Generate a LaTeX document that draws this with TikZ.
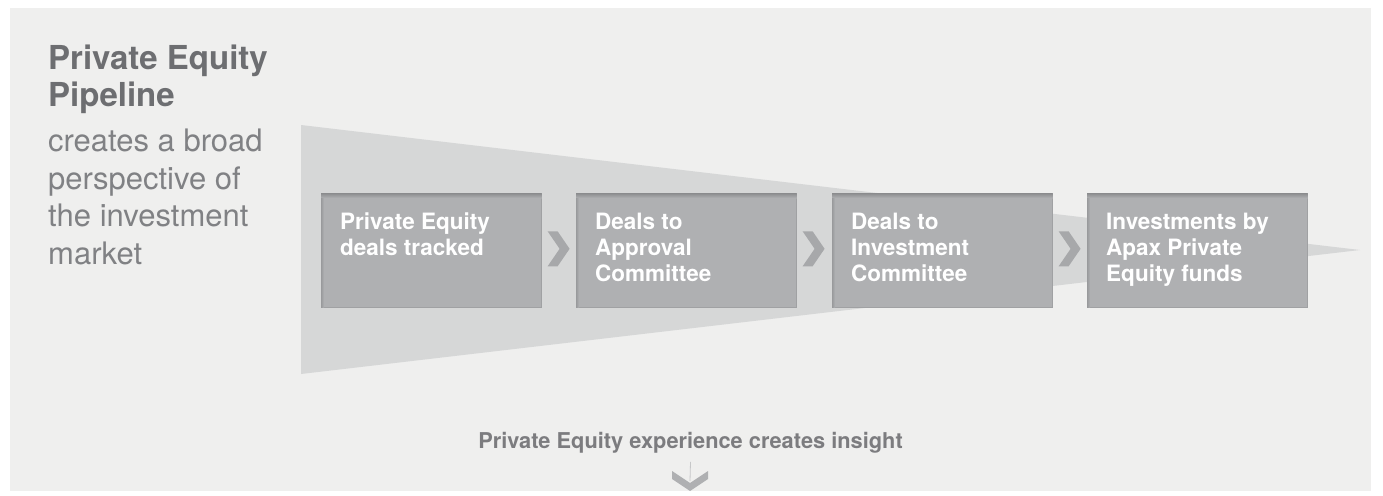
\documentclass[tikz,border=0pt]{standalone}
\usepackage{fontspec}
\setmainfont{TeX Gyre Heros}
\usepackage{tikz}
\usetikzlibrary{positioning}
\definecolor{panelgrey}{RGB}{239,239,238}
\definecolor{funnelgrey}{RGB}{214,215,215}
\definecolor{stagegrey}{RGB}{175,176,178}
\definecolor{stageshadow}{RGB}{138,139,141}
\definecolor{stageedge}{RGB}{160,161,163}
\definecolor{chevrongrey}{RGB}{167,168,170}
\definecolor{headgrey}{RGB}{109,110,113}
\definecolor{bodygrey}{RGB}{128,129,132}

\tikzset{
  stage/.style={rectangle, fill=stagegrey, draw=stageedge, line width=0.6pt,
    minimum width=220pt, minimum height=114pt, anchor=north west, inner sep=0pt},
  stagetext/.style={anchor=north west, inner sep=0pt, align=left, text=white,
    font=\fontsize{22.5}{26}\selectfont\bfseries},
}

\begin{document}
\begin{tikzpicture}[x=1pt,y=-1pt]
\useasboundingbox (0,0) rectangle (1383,495);
% background panel
\fill[panelgrey] (10,8) rectangle (1371,491);
% funnel
\fill[funnelgrey] (301,125) -- (1360,250) -- (301,374) -- cycle;

% title and blurb
\node[anchor=north west, inner sep=0pt, align=left, text=headgrey,
  font=\fontsize{33}{37}\selectfont\bfseries] (title) at (48,45) {Private Equity\\Pipeline};
\node[below=15pt of title.south west, anchor=north west, inner sep=0pt, align=left,
  text=bodygrey, font=\fontsize{31}{37.5}\selectfont] (blurb) {creates a broad\\perspective of\\the investment\\market};

% stages
\foreach \i/\x in {1/321, 2/576, 3/832, 4/1087} {
    \node[stage] (s\i) at (\x,193) {};
    % inner shadow
    \shade[top color=stageshadow, bottom color=stagegrey]
        (s\i.north west) rectangle ([yshift=-5pt]s\i.north east);
    \shade[left color=stageshadow!60!stagegrey, right color=stagegrey]
        ([yshift=-5pt]s\i.north west) rectangle ([xshift=3pt]s\i.south west);
}
\node[stagetext] (t1) at ([shift={(19,20)}]s1.north west) {Private Equity\\deals tracked};
\node[stagetext] (t2) at ([shift={(19,20)}]s2.north west) {Deals to\\Approval\\Committee};
\node[stagetext] (t3) at ([shift={(19,20)}]s3.north west) {Deals to\\Investment\\Committee};
\node[stagetext] (t4) at ([shift={(19,20)}]s4.north west) {Investments by\\Apax Private\\Equity funds};

% chevrons between stages
\foreach \a/\b in {s1/s2, s2/s3, s3/s4} {
    \fill[chevrongrey] ([shift={(6,-19)}]\a.east) -- ++(10,0) -- ++(12,17.5)
        -- ++(-12,17.5) -- ++(-10,0) -- ++(12,-17.5) -- cycle;
}

% insight line and down arrow
\node[anchor=base, inner sep=0pt, text=headgrey!90!white,
  font=\fontsize{21.8}{24}\selectfont\bfseries] (insight) at (690.5,448)
  {Private Equity experience creates insight};
\coordinate (vtip) at (690,491);
\draw[stageedge!60!white, line width=0.8pt] ([yshift=-9pt]insight.south) -- ([yshift=10pt]vtip);
\fill[stagegrey] ([shift={(-18,-20)}]vtip) -- ++(18,12) -- ++(18,-12) -- ++(0,8)
    -- ++(-18,12) -- ++(-18,-12) -- cycle;
\end{tikzpicture}
\end{document}
